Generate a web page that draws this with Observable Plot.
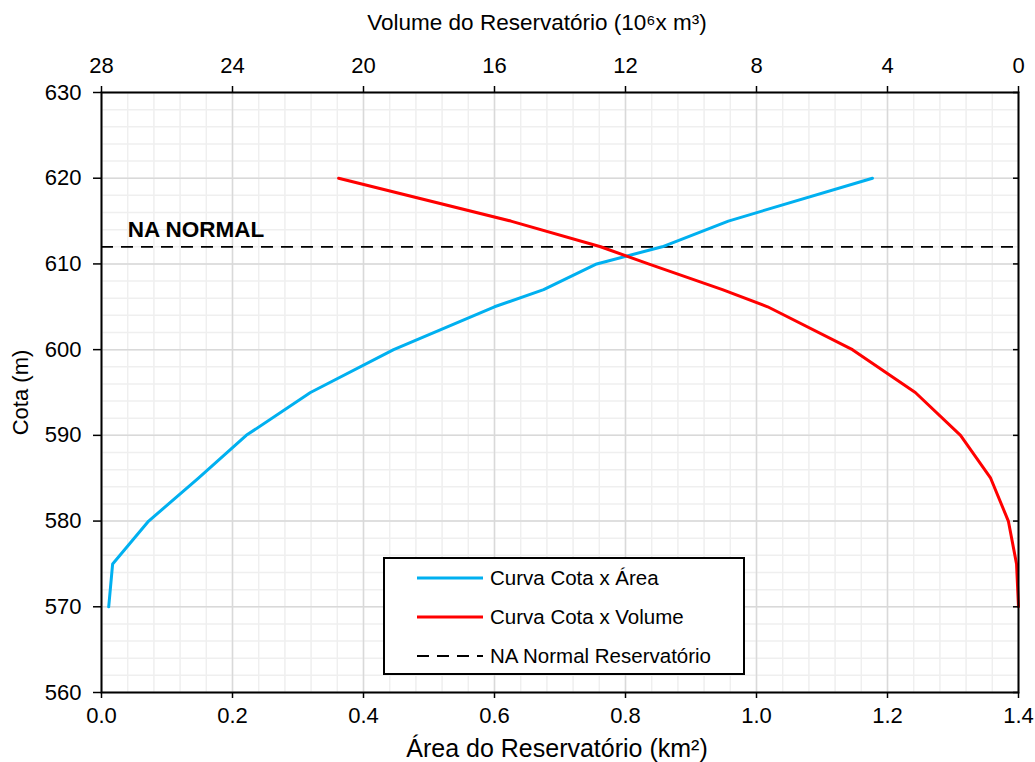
<!DOCTYPE html>
<html>
<head>
<meta charset="utf-8">
<script src="https://cdn.jsdelivr.net/npm/d3@7"></script>
<script src="https://cdn.jsdelivr.net/npm/@observablehq/plot@0.6"></script>
<style>
  html, body { margin: 0; padding: 0; background: #fff; }
  #wrap { position: relative; width: 1035px; height: 762px; font-family: Arial, "Liberation Sans", sans-serif; }
  #legend { position: absolute; left: 383px; top: 557px; width: 358px; height: 114px; border: 2px solid #000; background: #fff; box-sizing: content-box; }
  .row { position: absolute; left: 32px; height: 26px; display: flex; align-items: center; font-size: 20.5px; color: #000; white-space: nowrap; }
  .row svg { margin-right: 7px; }
</style>
</head>
<body>
<div id="wrap"></div>
<script>
// Data
const cotas   = [570, 575, 580, 585, 590, 595, 600, 605, 607, 610, 612, 615, 620];
const areas   = [0.011, 0.017, 0.072, 0.148, 0.221, 0.319, 0.446, 0.600, 0.675, 0.756, 0.856, 0.957, 1.177];
const volumes = [0.00, 0.06, 0.31, 0.85, 1.77, 3.15, 5.07, 7.66, 9.04, 11.30, 12.76, 15.50, 20.76];
const naNormal = 612;
const areaTicks = [0, 0.2, 0.4, 0.6, 0.8, 1.0, 1.2, 1.4];
const volumeTickLabels = [28, 24, 20, 16, 12, 8, 4, 0];
const cotaTicks = [560, 570, 580, 590, 600, 610, 620, 630];
const seriesNames = ["Curva Cota x Área", "Curva Cota x Volume", "NA Normal Reservatório"];
const topTitle = "Volume do Reservatório (10⁶x m³)";
const bottomTitle = "Área do Reservatório (km²)";

const areaMax = 1.4, volMax = 28;
const volToX = v => areaMax * (1 - v / volMax);

const areaData = cotas.map((c, i) => ({cota: c, x: areas[i]}));
const volData  = cotas.map((c, i) => ({cota: c, x: volToX(volumes[i])}));

const minorX = d3.range(0, 1.4001, 0.04).map(v => +v.toFixed(2));
const minorY = d3.range(560, 630.01, 2);

const FS = 22;
const plot = Plot.plot({
  width: 1035,
  height: 762,
  marginLeft: 101,
  marginRight: 17,
  marginTop: 92,
  marginBottom: 70,
  style: {fontFamily: "Arial, 'Liberation Sans', sans-serif", fontSize: "22px", color: "#000", background: "#fff", overflow: "visible"},
  x: {domain: [0, areaMax]},
  y: {domain: [560, 630]},
  marks: [
    Plot.gridX(minorX, {stroke: "#efefef", strokeOpacity: 1, strokeWidth: 1.5}),
    Plot.gridY(minorY, {stroke: "#efefef", strokeOpacity: 1, strokeWidth: 1.5}),
    Plot.gridX(areaTicks, {stroke: "#d9d9d9", strokeOpacity: 1, strokeWidth: 1.5}),
    Plot.gridY(cotaTicks, {stroke: "#d9d9d9", strokeOpacity: 1, strokeWidth: 1.5}),
    Plot.ruleY([naNormal], {stroke: "#000", strokeWidth: 1.8, strokeDasharray: "12,8"}),
    Plot.text(["NA NORMAL"], {x: 0.04, y: naNormal, dy: -17, text: d => d, textAnchor: "start", fontWeight: "bold", fontSize: 22.5}),
    Plot.line(areaData, {x: "x", y: "cota", stroke: "#00b0f0", strokeWidth: 3}),
    Plot.line(volData, {x: "x", y: "cota", stroke: "#ff0000", strokeWidth: 3}),
    Plot.frame({stroke: "#000", strokeWidth: 2}),
    Plot.axisX({anchor: "bottom", ticks: areaTicks, tickFormat: d3.format(".1f"), tickSize: 6, tickPadding: 9, strokeWidth: 1.5, fontSize: FS,
      label: null}),
    Plot.text([bottomTitle], {frameAnchor: "bottom", dy: 56, dx: -3, text: d => d, fontSize: 25, lineAnchor: "middle"}),
    Plot.axisX({anchor: "top", ticks: areaTicks, tickFormat: (d, i) => String(volumeTickLabels[i]), tickSize: 7, tickPadding: 13, strokeWidth: 1.5, fontSize: FS,
      label: null}),
    Plot.text([topTitle], {frameAnchor: "top", dy: -70, dx: -23, text: d => d, fontSize: 22.5, lineAnchor: "middle"}),
    Plot.axisY({anchor: "left", ticks: cotaTicks, tickSize: 8, tickPadding: 12, strokeWidth: 1.5, fontSize: FS,
      label: "Cota (m)", labelAnchor: "center", labelArrow: "none", labelOffset: 89}),
    Plot.axisY({anchor: "right", ticks: cotaTicks, tickSize: -6, tickFormat: () => "", strokeWidth: 1.5, label: null})
  ]
});
document.getElementById("wrap").appendChild(plot);

// Legend
const legend = document.createElement("div");
legend.id = "legend";
const styles = [
  {stroke: "#00b0f0", width: 3, dash: ""},
  {stroke: "#ff0000", width: 3, dash: ""},
  {stroke: "#000", width: 1.8, dash: "12,8"}
];
seriesNames.forEach((name, i) => {
  const row = document.createElement("div");
  row.className = "row";
  row.style.top = (6 + i * 39) + "px";
  const s = styles[i];
  row.innerHTML = `<svg width="66" height="10"><line x1="0" y1="5" x2="66" y2="5" stroke="${s.stroke}" stroke-width="${s.width}" stroke-dasharray="${s.dash}"/></svg><span>${name}</span>`;
  legend.appendChild(row);
});
document.getElementById("wrap").appendChild(legend);
</script>
</body>
</html>
